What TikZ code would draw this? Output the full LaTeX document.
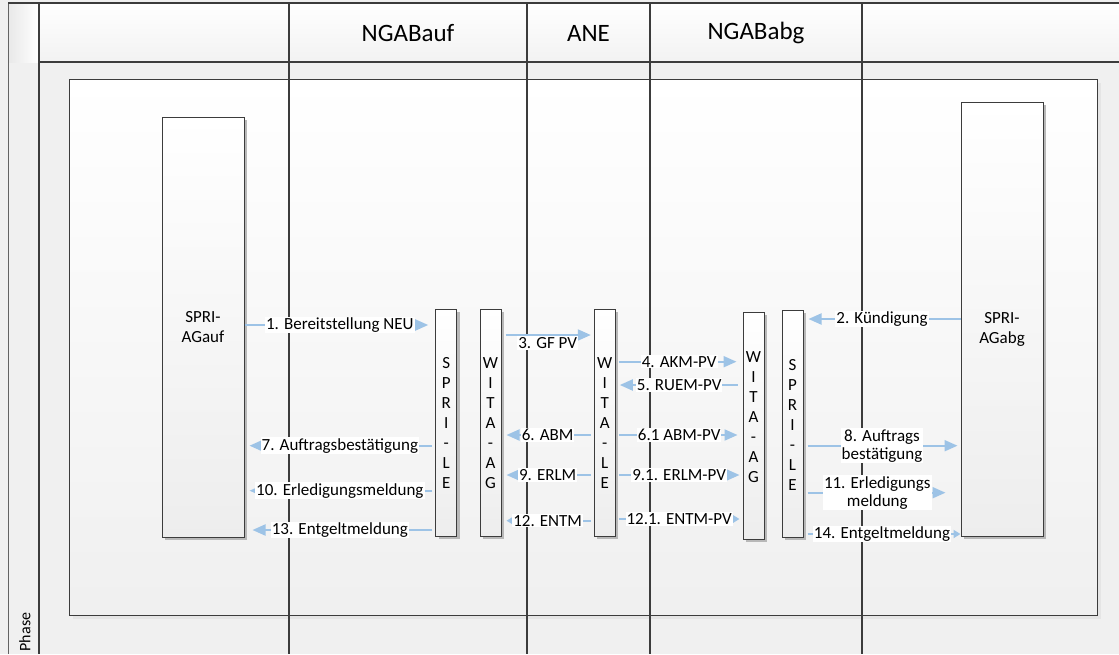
\documentclass[tikz,border=0pt]{standalone}
\usepackage{fontspec}
\setmainfont{Carlito}
\usetikzlibrary{arrows.meta,shadows}
\definecolor{bg}{HTML}{F0F0F0}
\definecolor{ln}{HTML}{3C3C3C}
\definecolor{msgblue}{HTML}{9DC3E6}
\begin{document}
\begin{tikzpicture}[x=1pt,y=-1pt,
  lbl/.style={fill=white,inner sep=1pt,font=\fontsize{17}{18}\selectfont,align=center,text=black},
  msg/.style={draw=msgblue,line width=2pt,-{Triangle[length=13pt,width=11pt]}},
  msgs/.style={draw=msgblue,line width=2pt,-{Triangle[length=7pt,width=8pt]}},
  sbox/.style={draw=ln,line width=1pt,inner sep=0pt,top color=white,bottom color=black!7,
    general shadow={fill=black!28,shadow xshift=3pt,shadow yshift=-3pt}},
  vtext/.style={font=\fontsize{17}{20}\selectfont,align=center,inner sep=0pt},
  btext/.style={font=\fontsize{17}{20}\selectfont,align=center,inner sep=0pt},
  hdr/.style={font=\fontsize{25}{30}\selectfont},
  lane/.style={draw=ln,line width=1.5pt}
]
% background and bounding box
\fill[bg] (0,0) rectangle (1119,654);
\path[use as bounding box] (0,0) rectangle (1119,654);
% header row shading
\shade[top color=white,bottom color=black!5] (39,3) rectangle (1119,62);
\shade[left color=black!9,right color=white] (8,3) rectangle (39,62);
% pool box
\node[draw=ln,line width=1pt,inner sep=0pt,minimum width=1028pt,minimum height=536pt,
  top color=white,bottom color=black!6,
  general shadow={fill=black!10,shadow xshift=4pt,shadow yshift=-4pt}] (pool) at (583,347) {};
% grid lines
\draw[draw=ln!80,line width=1pt] (8,3) -- (8,654);
\draw[lane] (8,3) -- (1119,3);
\draw[lane] (39,3) -- (39,654);
\draw[lane] (39,62) -- (1119,62);
\foreach \xx in {289,527,650,862} \draw[lane] (\xx,3) -- (\xx,654);
% headers
\node[hdr] (hauf) at (408,33) {NGABauf};
\node[hdr] (hane) at (588.5,33) {ANE};
\node[hdr] (habg) at (756,33) {NGABabg};
\node[rotate=90,font=\fontsize{16}{19}\selectfont] (phase) at (25,632) {Phase};
% boxes
\node[sbox,minimum width=82pt,minimum height=420pt] (sprauf) at (203,327) {};
\node[btext] (sprauft) at (203,327) {SPRI-\\AGauf};
\node[sbox,minimum width=82pt,minimum height=434pt] (sprabg) at (1002,319) {};
\node[btext] (sprabgt) at (1002,329) {SPRI-\\AGabg};
\node[sbox,minimum width=21pt,minimum height=227pt] (sprlel) at (446.2,422.5) {};
\node[vtext] (sprlelt) at (446.2,423) {S\\P\\R\\I\\-\\L\\E};
\node[sbox,minimum width=21pt,minimum height=227pt] (wagl) at (490.5,422.5) {};
\node[vtext] (waglt) at (490.5,423) {W\\I\\T\\A\\-\\A\\G};
\node[sbox,minimum width=21pt,minimum height=227pt] (wle) at (604.8,422.5) {};
\node[vtext] (wlet) at (604.8,423) {W\\I\\T\\A\\-\\L\\E};
\node[sbox,minimum width=21pt,minimum height=227pt] (wagr) at (753.5,425.5) {};
\node[vtext] (wagrt) at (753.5,417) {W\\I\\T\\A\\-\\A\\G};
\node[sbox,minimum width=21pt,minimum height=227pt] (sprler) at (792.5,423.5) {};
\node[vtext] (sprlert) at (792.5,425) {S\\P\\R\\I\\-\\L\\E};
% messages
\draw[msg,shorten >=7pt] (sprauf.east |- 0,325) -- node[lbl]{1. Bereitstellung NEU} (sprlel.west |- 0,325);
\draw[msg,shorten >=5pt] (sprabg.west |- 0,319) -- node[lbl]{2. Kündigung} (sprler.east |- 0,319);
\draw[msg,shorten <=4pt,shorten >=3pt] (wagl.east |- 0,335) -- node[lbl,yshift=-8pt]{3. GF PV} (wle.west |- 0,335);
\draw[msg,shorten <=3pt,shorten >=6pt] (wle.east |- 0,361.7) -- node[lbl]{4. AKM-PV} (wagr.west |- 0,361.7);
\draw[msg,shorten <=5pt,shorten >=4pt] (wagr.west |- 0,385) -- node[lbl]{5. RUEM-PV} (wle.east |- 0,385);
\draw[msg,shorten <=3pt,shorten >=5pt] (wle.west |- 0,435) -- node[lbl]{6. ABM} (wagl.east |- 0,435);
\draw[msg,shorten <=3pt,shorten >=5pt] (wle.east |- 0,435) -- node[lbl]{6.1 ABM-PV} (wagr.west |- 0,435);
\draw[msg,shorten <=3pt,shorten >=5pt] (sprlel.west |- 0,445.7) -- node[lbl]{7. Auftragsbestätigung} (sprauf.east |- 0,445.7);
\draw[msg,shorten <=4pt,shorten >=3pt] (sprler.east |- 0,445.7) -- node[lbl]{8. Auftrags\\bestätigung} (sprabg.west |- 0,445.7);
\draw[msg,shorten <=3pt,shorten >=5pt] (wle.west |- 0,475) -- node[lbl]{9. ERLM} (wagl.east |- 0,475);
\draw[msg,shorten <=3pt,shorten >=3pt] (wle.east |- 0,475) -- node[lbl]{9.1. ERLM-PV} (wagr.west |- 0,475);
\draw[msg,shorten <=3pt,shorten >=5pt] (sprlel.west |- 0,490.7) -- node[lbl]{10. Erledigungsmeldung} (sprauf.east |- 0,490.7);
\draw[msg,shorten <=4pt,shorten >=15pt] (sprler.east |- 0,492.7) -- node[lbl,pos=0.47]{11. Erledigungs\\meldung} (sprabg.west |- 0,492.7);
\draw[msgs,shorten <=3pt,shorten >=5pt] (wle.west |- 0,520.7) -- node[lbl]{12. ENTM} (wagl.east |- 0,520.7);
\draw[msgs,shorten <=3pt,shorten >=3pt] (wle.east |- 0,519) -- node[lbl]{12.1. ENTM-PV} (wagr.west |- 0,519);
\draw[msg,shorten <=3pt,shorten >=8pt] (sprlel.west |- 0,530) -- node[lbl]{13. Entgeltmeldung} (sprauf.east |- 0,530);
\draw[msgs,shorten <=4pt] (sprler.east |- 0,534) -- node[lbl]{14. Entgeltmeldung} (sprabg.west |- 0,534);
\end{tikzpicture}
\end{document}
